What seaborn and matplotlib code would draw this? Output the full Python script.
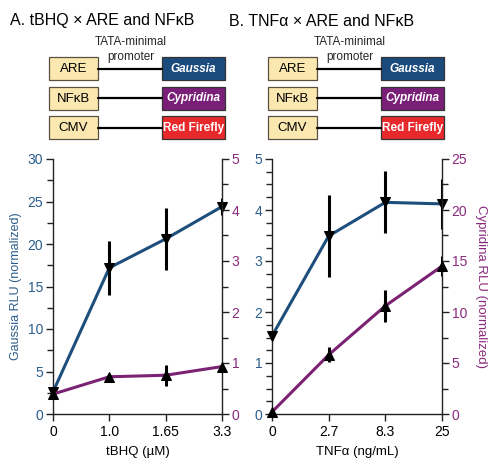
import matplotlib
matplotlib.use('Agg')
import matplotlib.pyplot as plt
import seaborn as sns
import pandas as pd
import numpy as np
from matplotlib.patches import Rectangle
from matplotlib.ticker import MultipleLocator

# ---------------- data ----------------
tbhq_labels = ['0', '1.0', '1.65', '3.3']
tnf_labels = ['0', '2.7', '8.3', '25']

a_gaussia = [2.6, 17.2, 20.6, 24.4]
a_gaussia_err = [0.5, 3.2, 3.6, 1.0]
a_cypridina = [0.39, 0.73, 0.76, 0.93]
a_cypridina_err = [0.07, 0.03, 0.21, 0.03]

b_gaussia = [1.53, 3.49, 4.15, 4.12]
b_gaussia_err = [0.08, 0.81, 0.61, 0.49]
b_cypridina = [0.2, 5.8, 10.6, 14.5]
b_cypridina_err = [0.3, 0.75, 1.6, 1.0]

left_box_labels = ['ARE', 'NF\u03baB', 'CMV']
right_box_labels = ['Gaussia', 'Cypridina', 'Red Firefly']

BLUE = '#1d4e7c'
BLUE_TXT = '#2b5d8c'
PURPLE = '#7b2272'
PURPLE_TXT = '#8a2a7f'
CREAM = '#fbe8b0'
BOX_COLORS = ['#1b4b7d', '#7a1f78', '#e8292c']

sns.set_theme(style='ticks')
plt.rcParams['font.family'] = ['Liberation Sans', 'DejaVu Sans']

W, H = 496, 470
fig = plt.figure(figsize=(W / 100, H / 100), dpi=100)


def fx(px):
    return px / W


def fy(py):
    return 1 - py / H


def panel(rect, labels, g, gerr, c, cerr, gmax, gmaj, gmin, cmax, cmaj, cmin,
          xlabel, left_label=None, right_label=None):
    ax = fig.add_axes(rect)
    x = np.arange(len(labels))
    dfg = pd.DataFrame({'x': x, 'v': g})
    sns.lineplot(data=dfg, x='x', y='v', ax=ax, color=BLUE, lw=2.2, marker='v',
                 markersize=7, markerfacecolor='black', markeredgecolor='black',
                 clip_on=False, zorder=3)
    ax.errorbar(x, g, yerr=gerr, fmt='none', ecolor='black', elinewidth=2.2,
                capsize=0, zorder=4)
    ax.set_xlim(0, len(labels) - 1)
    ax.set_ylim(0, gmax)
    ax.yaxis.set_major_locator(MultipleLocator(gmaj))
    ax.yaxis.set_minor_locator(MultipleLocator(gmin))
    ax.set_xticks(x)
    ax.set_xticklabels(labels)
    ax.set_xlabel(xlabel, fontsize=9.5, color='black', labelpad=5)
    ax.set_ylabel(left_label if left_label else '', fontsize=9, color=BLUE_TXT,
                  labelpad=4)
    ax.tick_params(axis='y', which='major', length=5, width=1, color='#222222',
                   labelcolor=BLUE_TXT, labelsize=10, pad=2)
    ax.tick_params(axis='y', which='minor', length=4, width=1, color='#222222', left=True)
    ax.tick_params(axis='x', length=5, width=1, color='#222222', labelsize=10,
                   labelcolor='black', pad=3)
    for s in ['top', 'right']:
        ax.spines[s].set_visible(False)
    for s in ['left', 'bottom']:
        ax.spines[s].set_color('#222222')
        ax.spines[s].set_linewidth(1)

    ax2 = ax.twinx()
    dfc = pd.DataFrame({'x': x, 'v': c})
    sns.lineplot(data=dfc, x='x', y='v', ax=ax2, color=PURPLE, lw=2.2, marker='^',
                 markersize=7, markerfacecolor='black', markeredgecolor='black',
                 clip_on=False, zorder=3)
    ax2.errorbar(x, c, yerr=cerr, fmt='none', ecolor='black', elinewidth=2.2,
                 capsize=0, zorder=4)
    ax2.set_xlim(0, len(labels) - 1)
    ax2.set_ylim(0, cmax)
    ax2.yaxis.set_major_locator(MultipleLocator(cmaj))
    ax2.yaxis.set_minor_locator(MultipleLocator(cmin))
    ax2.tick_params(axis='y', which='major', length=5, width=1, color='#222222',
                    labelcolor=PURPLE_TXT, labelsize=10, pad=2)
    ax2.tick_params(axis='y', which='minor', length=4, width=1, color='#222222', right=True)
    if right_label:
        ax2.set_ylabel(right_label, fontsize=9.5, color=PURPLE_TXT, rotation=270,
                       labelpad=14)
    else:
        ax2.set_ylabel('')
    for s in ['top', 'left', 'bottom']:
        ax2.spines[s].set_visible(False)
    ax2.spines['right'].set_color('#222222')
    ax2.spines['right'].set_linewidth(1)
    return ax, ax2


# left panel
panel([fx(53), fy(414), fx(222) - fx(53), fy(159) - fy(414)], tbhq_labels,
      a_gaussia, a_gaussia_err, a_cypridina, a_cypridina_err,
      30, 5, 2.5, 5, 1, 0.5, 'tBHQ (\u00b5M)', left_label='Gaussia RLU (normalized)')
# right panel
panel([fx(272), fy(414), fx(442) - fx(272), fy(159) - fy(414)], tnf_labels,
      b_gaussia, b_gaussia_err, b_cypridina, b_cypridina_err,
      5, 1, 0.25, 25, 5, 2.5, 'TNF\u03b1 (ng/mL)', right_label='Cypridina RLU (normalized)')

# ---------------- construct diagrams (overlay in pixel coordinates) ----------------
ov = fig.add_axes([0, 0, 1, 1], zorder=-1)
ov.set_xlim(0, W)
ov.set_ylim(H, 0)
ov.axis('off')

rows_y = [57, 86.5, 116]
box_h = 23


def diagram(x0, title):
    ov.text(x0 - 39, 21, title, fontsize=11.5, va='center', ha='left', color='black')
    lx0, lx1 = x0, x0 + 49
    rx0, rx1 = x0 + 113, x0 + 176
    ov.text((lx1 + rx0) / 2 + 1, 42, 'TATA-minimal', fontsize=8.5, ha='center', va='center')
    ov.text((lx1 + rx0) / 2 + 1, 57, 'promoter', fontsize=8.5, ha='center', va='center')
    for i, y in enumerate(rows_y):
        ov.add_patch(Rectangle((lx0, y), lx1 - lx0, box_h, facecolor=CREAM,
                               edgecolor='#5a5040', lw=0.9))
        ov.text((lx0 + lx1) / 2, y + box_h / 2 + 0.5, left_box_labels[i], fontsize=9.5,
                ha='center', va='center', color='black')
        ov.plot([lx1, rx0], [y + box_h / 2, y + box_h / 2], color='black', lw=1.6)
        ov.add_patch(Rectangle((rx0, y), rx1 - rx0, box_h, facecolor=BOX_COLORS[i],
                               edgecolor='#333333', lw=0.9))
        style = 'italic' if i < 2 else 'normal'
        ov.text((rx0 + rx1) / 2, y + box_h / 2 + 0.5, right_box_labels[i], fontsize=8.5,
                ha='center', va='center', color='white', fontweight='bold', style=style)


diagram(49, 'A. tBHQ \u00d7 ARE and NF\u03baB')
diagram(268, 'B. TNF\u03b1 \u00d7 ARE and NF\u03baB')

fig.savefig('out.png', dpi=100)
